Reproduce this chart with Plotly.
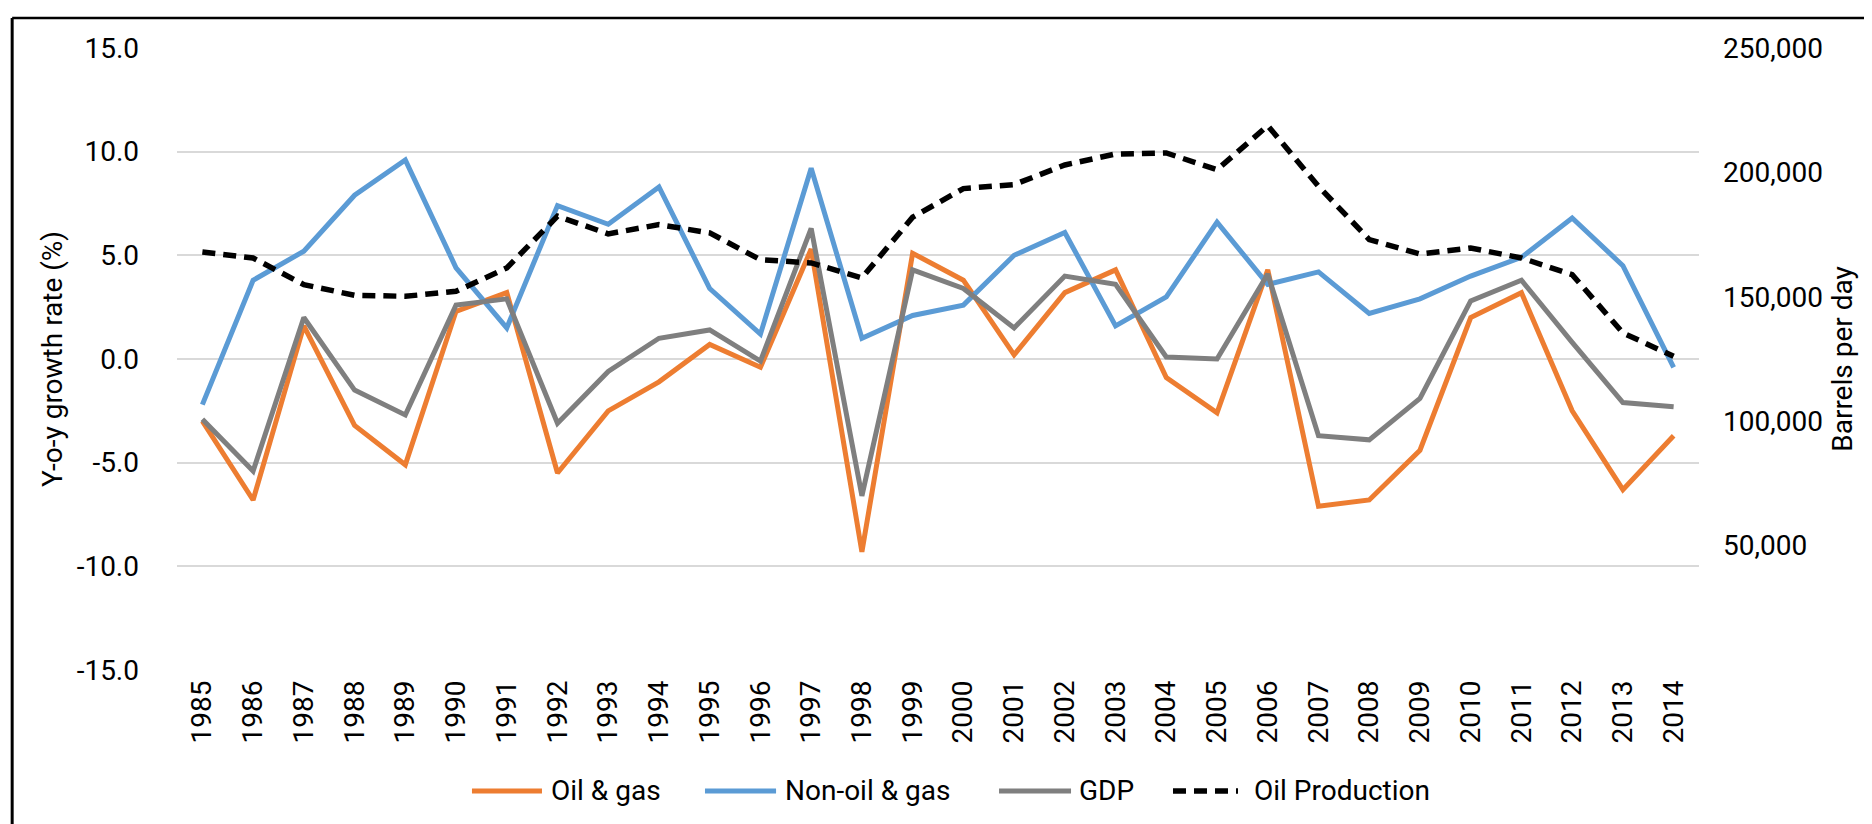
import plotly.graph_objects as go

years = ["1985", "1986", "1987", "1988", "1989", "1990", "1991", "1992", "1993", "1994",
         "1995", "1996", "1997", "1998", "1999", "2000", "2001", "2002", "2003", "2004",
         "2005", "2006", "2007", "2008", "2009", "2010", "2011", "2012", "2013", "2014"]

oil_gas = [-3.0, -6.8, 1.6, -3.2, -5.1, 2.3, 3.2, -5.5, -2.5, -1.1,
           0.7, -0.4, 5.3, -9.3, 5.1, 3.8, 0.2, 3.2, 4.3, -0.9,
           -2.6, 4.3, -7.1, -6.8, -4.4, 2.0, 3.2, -2.5, -6.3, -3.7]

non_oil_gas = [-2.2, 3.8, 5.2, 7.9, 9.6, 4.4, 1.5, 7.4, 6.5, 8.3,
               3.4, 1.2, 9.2, 1.0, 2.1, 2.6, 5.0, 6.1, 1.6, 3.0,
               6.6, 3.6, 4.2, 2.2, 2.9, 4.0, 4.9, 6.8, 4.5, -0.4]

gdp = [-2.9, -5.4, 2.0, -1.5, -2.7, 2.6, 2.9, -3.1, -0.6, 1.0,
       1.4, -0.1, 6.3, -6.6, 4.3, 3.4, 1.5, 4.0, 3.6, 0.1,
       0.0, 4.1, -3.7, -3.9, -1.9, 2.8, 3.8, 0.8, -2.1, -2.3]

oil_production = [168000, 165600, 154900, 150600, 150200, 152200, 161600, 182400, 175300, 179000,
                  175700, 164900, 163600, 157600, 182000, 193500, 195100, 203000, 207400, 207800,
                  201100, 218800, 194400, 173000, 167200, 169600, 165600, 158900, 135500, 126100]

left_ticks = [-15, -10, -5, 0, 5, 10, 15]
left_tick_text = ["-15.0", "-10.0", "-5.0", "0.0", "5.0", "10.0", "15.0"]
right_ticks = [50000, 100000, 150000, 200000, 250000]
right_tick_text = ["50,000", "100,000", "150,000", "200,000", "250,000"]

series_names = ["Oil & gas", "Non-oil & gas", "GDP", "Oil Production"]
series_colors = ["#ED7D31", "#5B9BD5", "#7F7F7F", "#000000"]

FONT = "Roboto, 'Open Sans', sans-serif"
FS = 28
LW = 5
DASH = "13px,8px"

fig = go.Figure()
fig.add_trace(go.Scatter(x=years, y=oil_gas, name=series_names[0], mode="lines",
                         line=dict(color=series_colors[0], width=LW)))
fig.add_trace(go.Scatter(x=years, y=non_oil_gas, name=series_names[1], mode="lines",
                         line=dict(color=series_colors[1], width=LW)))
fig.add_trace(go.Scatter(x=years, y=gdp, name=series_names[2], mode="lines",
                         line=dict(color=series_colors[2], width=LW)))
fig.add_trace(go.Scatter(x=years, y=oil_production, name=series_names[3], mode="lines",
                         yaxis="y2", line=dict(color=series_colors[3], width=5.5, dash=DASH)))

# Legend drawn below the plot (long Excel-style key lines)
legend_y = -0.1945
legend_lines = [(0.1938, 0.2398), (0.3469, 0.3936), (0.5401, 0.5874), (0.6544, 0.6971)]
legend_text_x = [0.2444, 0.3982, 0.5913, 0.7063]

shapes = [
    dict(type="line", xref="paper", yref="paper", x0=-0.1083, x1=-0.1083, y0=-0.4, y1=1.0482,
         line=dict(color="#000000", width=3)),
    dict(type="line", xref="paper", yref="paper", x0=-0.1083, x1=1.25, y0=1.0482, y1=1.0482,
         line=dict(color="#000000", width=2.5)),
]
annotations = []
for i, name in enumerate(series_names):
    x0, x1 = legend_lines[i]
    shapes.append(dict(type="line", xref="paper", yref="paper", x0=x0, x1=x1,
                       y0=legend_y, y1=legend_y,
                       line=dict(color=series_colors[i], width=5.5 if i == 3 else LW,
                                 dash=DASH if i == 3 else "solid")))
    annotations.append(dict(text=name, xref="paper", yref="paper", x=legend_text_x[i],
                            y=legend_y, xanchor="left", yanchor="middle", showarrow=False,
                            font=dict(family=FONT, size=FS, color="#000000")))

fig.update_layout(
    width=1872, height=824,
    margin=dict(l=169, r=181, t=40, b=162, pad=0),
    paper_bgcolor="white", plot_bgcolor="white",
    font=dict(family=FONT, size=FS, color="#000000"),
    showlegend=False,
    xaxis=dict(type="category", range=[-0.5, 29.5], showgrid=False, zeroline=False,
               showline=False, ticks="", tickangle=-90, ticklabelstandoff=4,
               tickfont=dict(family=FONT, size=FS, color="#000000")),
    yaxis=dict(range=[-15, 15], tickvals=left_ticks, ticktext=left_tick_text,
               showgrid=True, gridcolor="#D9D9D9", gridwidth=1.5, zeroline=False,
               showline=False, ticks="", ticklabelstandoff=37,
               tickfont=dict(family=FONT, size=FS, color="#000000"),
               title=dict(text="Y-o-y growth rate (%)", standoff=5,
                          font=dict(family=FONT, size=FS, color="#000000"))),
    yaxis2=dict(range=[0, 250000], overlaying="y", side="right", tickvals=right_ticks,
                ticktext=right_tick_text, showgrid=False, zeroline=False, showline=False,
                ticks="", ticklabelstandoff=23,
                tickfont=dict(family=FONT, size=FS, color="#000000"),
                title=dict(text="Barrels per day", standoff=10,
                           font=dict(family=FONT, size=FS, color="#000000"))),
    shapes=shapes,
    annotations=annotations,
)

fig.write_html("out.html")
